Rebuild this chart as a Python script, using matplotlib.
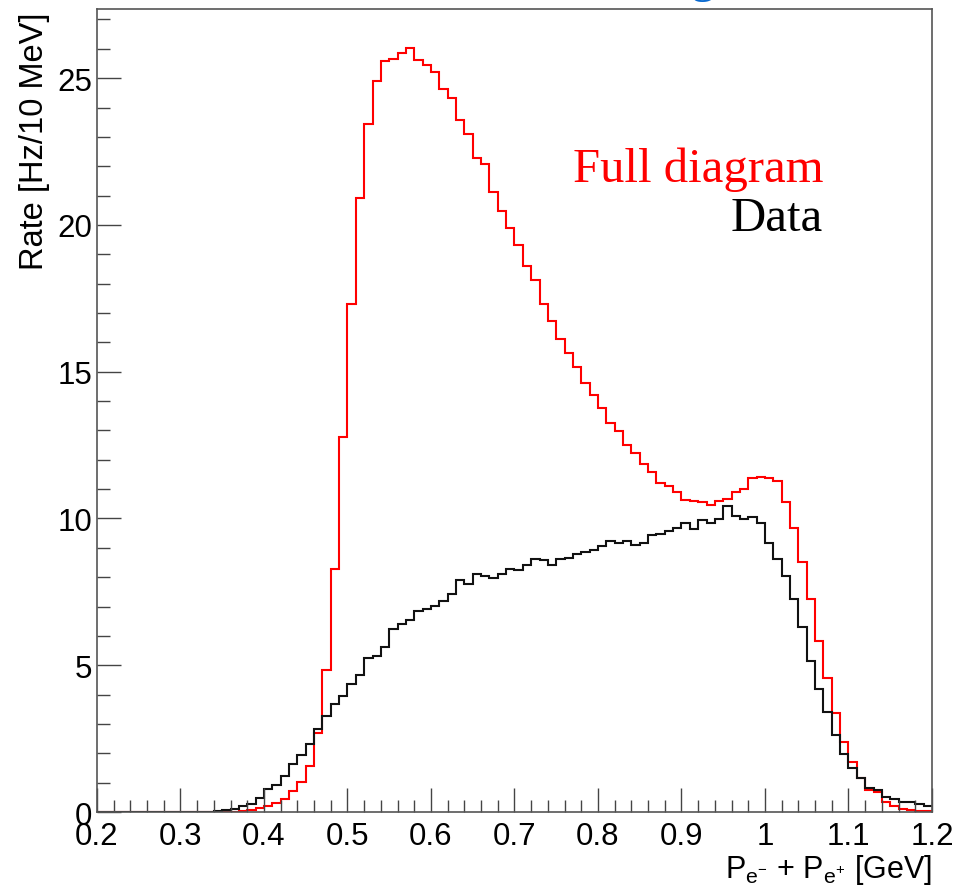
import numpy as np
import matplotlib
matplotlib.use('Agg')
import matplotlib.pyplot as plt
from matplotlib.ticker import MultipleLocator, FuncFormatter

# bin edges: 100 bins of 10 MeV from 0.2 to 1.2 GeV
edges = np.linspace(0.2, 1.2, 101)

# rate per bin [Hz/10 MeV] (bins start at 0.20)
full_diagram = [0]*17 + [
    0.02, 0.08, 0.13, 0.20, 0.32, 0.45, 0.70, 1.02, 1.56, 2.69,      # 0.37-0.46
    4.83, 8.28, 12.76, 17.31, 20.92, 23.44, 24.92, 25.58, 25.66, 25.86,  # 0.47-0.56
    26.04, 25.62, 25.45, 25.20, 24.63, 24.32, 23.59, 23.10, 22.29, 22.08,  # 0.57-0.66
    21.11, 20.49, 19.89, 19.31, 18.59, 18.14, 17.31, 16.74, 16.12, 15.65,  # 0.67-0.76
    15.17, 14.61, 14.22, 13.75, 13.24, 12.99, 12.51, 12.23, 11.85, 11.60,  # 0.77-0.86
    11.22, 11.09, 10.89, 10.64, 10.60, 10.55, 10.47, 10.60, 10.66, 10.89,  # 0.87-0.96
    11.00, 11.38, 11.42, 11.38, 11.28, 10.57, 9.66, 8.53, 7.24, 5.84,      # 0.97-1.06
    4.56, 3.37, 2.40, 1.69, 1.15, 0.76, 0.67, 0.33, 0.22, 0.10,           # 1.07-1.16
    0.07, 0.05, 0.04]                                                    # 1.17-1.19

data = [0]*14 + [
    0.02, 0.08, 0.11, 0.19, 0.28, 0.48, 0.77, 0.91, 1.24, 1.64,       # 0.34-0.43
    1.94, 2.32, 2.83, 3.26, 3.68, 3.96, 4.35, 4.68, 5.23, 5.33,       # 0.44-0.53
    5.63, 6.23, 6.42, 6.53, 6.85, 6.92, 7.01, 7.19, 7.43, 7.91,       # 0.54-0.63
    7.76, 8.10, 8.04, 7.96, 8.10, 8.28, 8.23, 8.43, 8.62, 8.57,       # 0.64-0.73
    8.43, 8.62, 8.67, 8.80, 8.87, 8.91, 9.05, 9.23, 9.18, 9.23,       # 0.74-0.83
    9.11, 9.15, 9.44, 9.48, 9.56, 9.66, 9.85, 9.65, 9.95, 9.85,       # 0.84-0.93
    9.99, 10.41, 10.10, 9.99, 10.04, 9.85, 9.18, 8.62, 8.04, 7.24,    # 0.94-1.03
    6.29, 5.15, 4.19, 3.42, 2.62, 1.98, 1.49, 1.15, 0.81, 0.74,       # 1.04-1.13
    0.50, 0.45, 0.33, 0.33, 0.28, 0.19]                              # 1.14-1.19

plt.rcParams['font.family'] = ['Liberation Sans', 'DejaVu Sans']
plt.rcParams['mathtext.fontset'] = 'custom'
plt.rcParams['mathtext.rm'] = 'Liberation Sans'

fig = plt.figure(figsize=(9.67, 8.87), dpi=100)
ax = fig.add_axes([0.1003, 0.0834, 0.8635, 0.9048])

ax.stairs(full_diagram, edges, color='#ff0000', lw=1.5, baseline=None)
ax.stairs(data, edges, color='#111111', lw=1.5, baseline=None)

ax.set_xlim(0.2, 1.2)
ax.set_ylim(0, 27.34)

ax.xaxis.set_major_locator(MultipleLocator(0.1))
ax.xaxis.set_minor_locator(MultipleLocator(0.02))
ax.yaxis.set_major_locator(MultipleLocator(5))
ax.yaxis.set_minor_locator(MultipleLocator(1))
ax.xaxis.set_major_formatter(FuncFormatter(lambda v, p: '%g' % round(v, 2)))
ax.yaxis.set_major_formatter(FuncFormatter(lambda v, p: '%g' % v))

ax.tick_params(which='both', direction='in', top=False, right=False,
               color='#444444', width=1.0, labelsize=22.5)
ax.tick_params(which='major', length=17)
ax.tick_params(which='minor', length=9)
ax.tick_params(axis='x', which='major', pad=6.5)
ax.tick_params(axis='y', which='major', pad=3.5)
for s in ax.spines.values():
    s.set_color('#555555')
    s.set_linewidth(1.2)

ax.text(-0.0754, 0.998, 'Rate [Hz/10 MeV]', transform=ax.transAxes,
        rotation=90, ha='center', va='top', fontsize=23.5)
ax.text(1.0, -0.0805, r'P$_{\mathregular{e^{-}}}$ + P$_{\mathregular{e^{+}}}$ [GeV]',
        transform=ax.transAxes, ha='right', va='baseline', fontsize=22)

ax.text(0.8695, 0.7863, 'Full diagram', transform=ax.transAxes, ha='right',
        va='baseline', color='#ff0000', fontsize=35, family='Liberation Serif')
ax.text(0.8695, 0.7252, 'Data', transform=ax.transAxes, ha='right',
        va='baseline', color='black', fontsize=35, family='Liberation Serif')

# bottom of a cut-off blue title above the frame
fig.text(0.727, 1.0095, 'g', ha='center', va='baseline', color='#0a6ad0',
         fontsize=35, family='Liberation Serif')

fig.savefig('out.png', dpi=100)
